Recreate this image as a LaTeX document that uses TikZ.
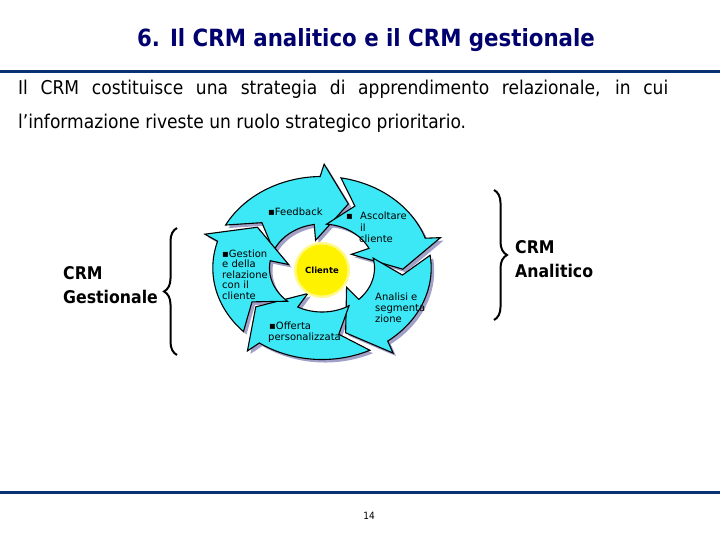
\documentclass[tikz,border=0pt]{standalone}
\usepackage{fontspec}
\setmainfont{DejaVu Sans}
\newfontfamily\tahoma[FakeStretch=0.9]{DejaVu Sans}
\newfontfamily\verd{DejaVu Sans}
\usetikzlibrary{decorations.pathreplacing}
\definecolor{navy}{RGB}{0,0,110}
\definecolor{rulecol}{RGB}{10,50,115}
\definecolor{aqua}{RGB}{60,232,245}
\definecolor{shad}{RGB}{160,160,200}
\newcommand\ringpath[2]{%
  \fill[#2] ({#1+81}:1.04) -- plot[domain=#1+81:#1+20, samples=30] (\x:1.04)
    -- ({#1+18}:1.18) -- ({#1}:0.77) -- ({#1+30}:0.32) -- ({#1+27.5}:0.5)
    -- plot[domain=#1+27.5:#1+86, samples=30] (\x:0.5)
    -- ({#1+67}:0.77) -- cycle;}
\tikzset{
  lab/.style={font=\verd\fontsize{10}{11}\selectfont, anchor=base west, inner sep=0pt},
  side/.style={font=\tahoma\bfseries\fontsize{17.5}{20}\selectfont, anchor=base west, inner sep=0pt},
  bodytxt/.style={font=\tahoma\fontsize{19}{22}\selectfont, anchor=base west, inner sep=0pt},
  bracestyle/.style={decorate, decoration={brace, amplitude=13pt}, line width=2pt, black}
}
\begin{document}
\begin{tikzpicture}[x=1pt,y=-1pt]
\useasboundingbox (0,0) rectangle (720,540);
% title and rules
\node[font=\tahoma\bfseries\fontsize{23.7}{28}\selectfont, text=navy, anchor=base, inner sep=0pt] (title) at (366,46.5) {6. Il CRM analitico e il CRM gestionale};
\fill[rulecol] (0,70.5) rectangle (720,73.5);
\fill[rulecol] (0,490.5) rectangle (720,493.5);
% body text
\node[bodytxt] (line1) at (18,95) {\makebox[650pt][s]{Il CRM costituisce una strategia di apprendimento relazionale, in cui}};
\node[bodytxt] (line2) at (18,129) {l’informazione riveste un ruolo strategico prioritario.};
% cycle
\begin{scope}[shift={(322,268)}, x=105pt, y=88pt]
  \foreach \T in {71,-1,-73,-145,-217} {\ringpath{\T}{shad, shift={(3pt,-3pt)}}}
  \foreach \T in {71,-1,-73,-145,-217} {\ringpath{\T}{fill=aqua, draw=black, line width=1.1pt, line join=miter}}
\end{scope}
\fill[yellow!45] (322,270) circle (28);
\node[circle, fill=yellow, minimum size=51pt, inner sep=0pt, font=\verd\bfseries\fontsize{8.5}{10}\selectfont] (cliente) at (322,270) {Cliente};
% labels
\node[lab] (fb) at (268,215) {▪Feedback};
\node[lab] (as0) at (346,219) {▪};
\node[lab] (as1) at (360,220) {Ascoltare};
\node[lab] (as2) at (360,231) {il};
\node[lab] (as3) at (359,243) {cliente};
\node[lab] (g1) at (222,257) {▪Gestion};
\node[lab] (g2) at (222,267) {e della};
\node[lab] (g3) at (222,278) {relazione};
\node[lab] (g4) at (222,288) {con il};
\node[lab] (g5) at (222,299) {cliente};
\node[lab] (a1) at (375,300) {Analisi e};
\node[lab] (a2) at (375,311) {segmenta};
\node[lab] (a3) at (375,322) {zione};
\node[lab] (o1) at (269,329) {▪Offerta};
\node[lab] (o2) at (268,340) {personalizzata};
% side labels and braces
\node[side] (crmg1) at (63,279.5) {CRM};
\node[side] (crmg2) at (63,303.5) {Gestionale};
\node[side] (crma1) at (515,253.5) {CRM};
\node[side] (crma2) at (515,277.5) {Analitico};
\coordinate (lb1) at (177,355);
\coordinate (lb2) at (177,228);
\coordinate (rb1) at (494,190);
\coordinate (rb2) at (494,320);
\draw[bracestyle] (lb1) -- (lb2);
\draw[bracestyle] (rb1) -- (rb2);
% page number
\node[font=\tahoma\fontsize{10}{12}\selectfont, anchor=base, inner sep=0pt] (page) at (369,519) {14};
\end{tikzpicture}
\end{document}
